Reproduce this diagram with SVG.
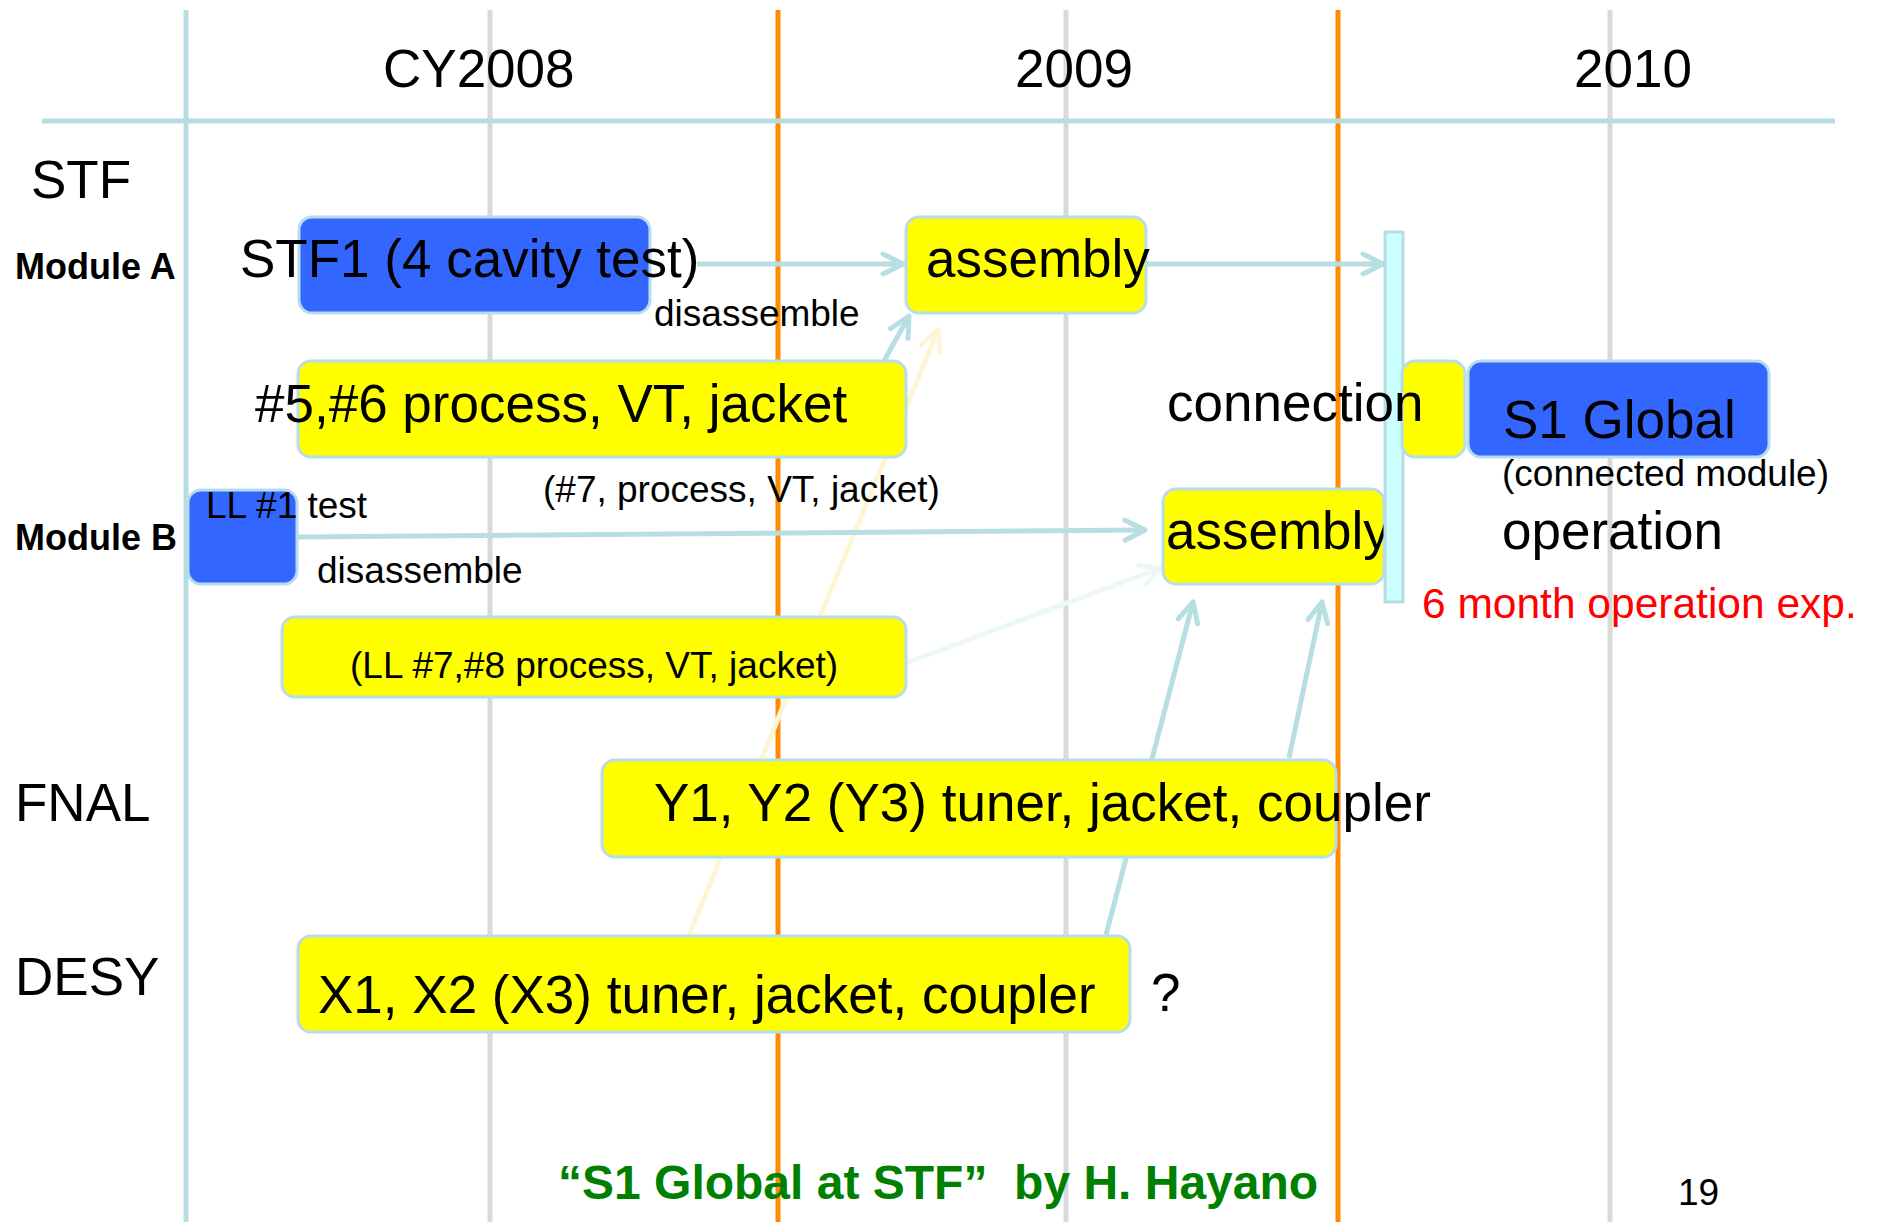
<svg xmlns="http://www.w3.org/2000/svg" width="1879" height="1222" viewBox="0 0 1879 1222">
<style>
text{font-family:"Liberation Sans",Arial,sans-serif;fill:#000}
.big{font-size:53px}
.med{font-size:37px}
.lab{font-size:36px;font-weight:bold}
.blue{fill:#3366ff;stroke:#b7dde8;stroke-width:3}
.yel{fill:#ffff00;stroke:#b7dde8;stroke-width:3}
.grid{stroke:#d9d9d9;stroke-width:5}
.org{stroke:#ff8c00;stroke-width:5}
.axis{stroke:#b7dde3;stroke-width:5}
.c{fill:none;stroke:#b7dfe3;stroke-width:5}
.cy{fill:none;stroke:#fdf6d6;stroke-width:5}
.cw{fill:none;stroke:#edf7f7;stroke-width:5}
</style>
<defs>
<marker id="ah" markerUnits="userSpaceOnUse" markerWidth="40" markerHeight="40" refX="0" refY="0" viewBox="-30 -20 40 40" orient="auto" overflow="visible">
<path d="M-20,-10 L0,0 L-20,10" fill="none" stroke="#b7dfe3" stroke-width="5" stroke-linecap="round" stroke-linejoin="round"/>
</marker>
<marker id="ahy" markerUnits="userSpaceOnUse" markerWidth="40" markerHeight="40" refX="0" refY="0" viewBox="-30 -20 40 40" orient="auto" overflow="visible">
<path d="M-20,-10 L0,0 L-20,10" fill="none" stroke="#fdf6d6" stroke-width="5" stroke-linecap="round" stroke-linejoin="round"/>
</marker>
<marker id="ahw" markerUnits="userSpaceOnUse" markerWidth="40" markerHeight="40" refX="0" refY="0" viewBox="-30 -20 40 40" orient="auto" overflow="visible">
<path d="M-20,-10 L0,0 L-20,10" fill="none" stroke="#edf7f7" stroke-width="5" stroke-linecap="round" stroke-linejoin="round"/>
</marker>
</defs>
<rect width="1879" height="1222" fill="#fff"/>
<g id="grid">
<line class="axis" x1="186" y1="10" x2="186" y2="1222"/>
<line class="grid" x1="490" y1="10" x2="490" y2="1222"/>
<line class="grid" x1="1066" y1="10" x2="1066" y2="1222"/>
<line class="grid" x1="1610" y1="10" x2="1610" y2="1222"/>
<line class="org" x1="778" y1="10" x2="778" y2="1222"/>
<line class="org" x1="1338" y1="10" x2="1338" y2="1222"/>
<line class="axis" x1="42" y1="121" x2="1835" y2="121"/>
</g>
<g id="headers">
<text class="big" x="383" y="87">CY2008</text>
<text class="big" x="1015" y="87">2009</text>
<text class="big" x="1574" y="87">2010</text>
<text class="big" x="31" y="198">STF</text>
<text class="lab" x="15" y="279">Module A</text>
<text class="lab" x="15" y="550">Module B</text>
<text class="big" x="15" y="821">FNAL</text>
<text class="big" x="15" y="995">DESY</text>
</g>
<g id="connectors">
<line class="cy" x1="689" y1="935" x2="938" y2="330" marker-end="url(#ahy)"/>
<line class="cw" x1="906" y1="663" x2="1161" y2="568" marker-end="url(#ahw)"/>
<line class="c" x1="697" y1="264" x2="903" y2="264" marker-end="url(#ah)"/>
<line class="c" x1="1147" y1="264" x2="1383" y2="264" marker-end="url(#ah)"/>
<line class="c" x1="884" y1="361" x2="909" y2="316" marker-end="url(#ah)"/>
<line class="c" x1="297" y1="537" x2="1145" y2="530" marker-end="url(#ah)"/>
<line class="c" x1="1106" y1="935" x2="1193" y2="602" marker-end="url(#ah)"/>
<line class="c" x1="1289" y1="758" x2="1322" y2="602" marker-end="url(#ah)"/>
</g>
<g id="stf1">
<rect class="blue" x="299" y="217" width="351" height="96" rx="13"/>
<text class="big" x="240" y="277">STF1 (4 cavity test)</text>
</g>
<g id="assemblyA">
<rect class="yel" x="906" y="217" width="240" height="96" rx="13"/>
<text class="big" x="926" y="277">assembly</text>
</g>
<text id="disassembleA" class="med" x="654" y="326">disassemble</text>
<g id="process56">
<rect class="yel" x="298" y="361" width="608" height="96" rx="13"/>
<text class="big" x="255" y="422">#5,#6 process, VT, jacket</text>
</g>
<text id="process7" class="med" x="543" y="502">(#7, process, VT, jacket)</text>
<g id="ll1">
<rect class="blue" x="188" y="490" width="109" height="94" rx="13"/>
<text class="med" x="206" y="518">LL #1 test</text>
</g>
<text id="disassembleB" class="med" x="317" y="583">disassemble</text>
<g id="assemblyB">
<rect class="yel" x="1163" y="489" width="221" height="95" rx="13"/>
<text class="big" x="1166" y="549">assembly</text>
</g>
<g id="bar">
<rect x="1385" y="232" width="18" height="370" fill="#ccffff" stroke="#b7dde3" stroke-width="3"/>
</g>
<g id="connection">
<rect class="yel" x="1402" y="361" width="63" height="96" rx="13"/>
<text class="big" x="1167" y="421">connection</text>
</g>
<g id="s1global">
<rect class="blue" x="1468" y="361" width="301" height="96" rx="13"/>
<text class="big" x="1503" y="438">S1 Global</text>
<text class="med" x="1502" y="486">(connected module)</text>
<text class="big" x="1502" y="549">operation</text>
<text x="1422" y="618" style="font-size:42.5px;fill:#ff0000">6 month operation exp.</text>
</g>
<g id="ll78">
<rect class="yel" x="282" y="617" width="624" height="80" rx="13"/>
<text class="med" x="350" y="678">(LL #7,#8 process, VT, jacket)</text>
</g>
<g id="fnal">
<rect class="yel" x="602" y="760" width="734" height="97" rx="13"/>
<text class="big" x="654" y="821">Y1, Y2 (Y3) tuner, jacket, coupler</text>
</g>
<g id="desy">
<rect class="yel" x="298" y="936" width="832" height="96" rx="13"/>
<text class="big" x="318" y="1013">X1, X2 (X3) tuner, jacket, coupler</text>
<text class="big" x="1151" y="1011">?</text>
</g>
<g id="footer">
<text x="558" y="1199" xml:space="preserve" style="font-size:48px;font-weight:bold;fill:#008000">“S1 Global at STF”  by H. Hayano</text>
<text class="med" x="1678" y="1205">19</text>
</g>
</svg>
